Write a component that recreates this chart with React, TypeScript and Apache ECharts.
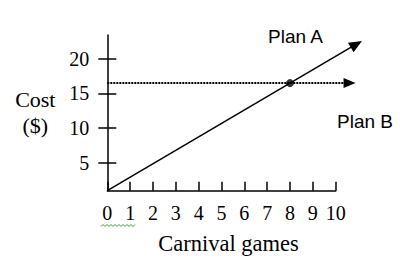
import React, { useEffect, useRef } from "react";
import * as echarts from "echarts";

// Data
const xMin = 0;
const xMax = 10;
const yMin = 0.95;
const yMax = 23.45;
const yTickValues = [5, 10, 15, 20];
// [x start, y start, x end (arrow tip), y end]
const planA: number[] = [0, 0.95, 11.15, 22.6];
const planB: number[] = [0, 16.5, 10.87, 16.5];
const intersection: [number, number][] = [[8, 16.5]];
const planALabel = "Plan A";
const planBLabel = "Plan B";
const xAxisName = "Carnival games";
const yAxisName = "Cost\n($)";

const SERIF = "'Liberation Serif', 'Times New Roman', serif";
const SANS = "'Liberation Sans', Arial, sans-serif";

function arrowRenderer(lineWidth: number, lineDash: number[] | null, headLen: number, headWidth: number) {
  return (params: any, api: any) => {
    const p0 = api.coord([api.value(0), api.value(1)]);
    const p1 = api.coord([api.value(2), api.value(3)]);
    const dx = p1[0] - p0[0];
    const dy = p1[1] - p0[1];
    const len = Math.sqrt(dx * dx + dy * dy) || 1;
    const ux = dx / len;
    const uy = dy / len;
    const nx = -uy;
    const ny = ux;
    const bx = p1[0] - ux * headLen;
    const by = p1[1] - uy * headLen;
    return {
      type: "group",
      children: [
        {
          type: "line",
          shape: { x1: p0[0], y1: p0[1], x2: bx + ux * 1, y2: by + uy * 1 },
          style: { stroke: "#000", lineWidth, lineDash: lineDash || undefined, fill: null },
        },
        {
          type: "polygon",
          shape: {
            points: [
              [p1[0], p1[1]],
              [bx + nx * headWidth / 2, by + ny * headWidth / 2],
              [bx - nx * headWidth / 2, by - ny * headWidth / 2],
            ],
          },
          style: { fill: "#000", stroke: null },
        },
      ],
    };
  };
}

export default function App() {
  const ref = useRef<HTMLDivElement>(null);
  useEffect(() => {
    document.body.style.margin = "0";
    if (!ref.current) return;
    const chart = echarts.init(ref.current, undefined, { renderer: "svg" });
    const axisLineStyle = { color: "#000", width: 1.5 };

    // spell-check squiggle decoration under "0 1"
    const squiggle: number[][] = [];
    for (let i = 0; i <= 17; i++) squiggle.push([101 + i * 2, i % 2 === 0 ? 226.5 : 224.5]);

    chart.setOption({
      animation: false,
      grid: { left: 107.3, right: 68.3, top: 35, bottom: 76.3, containLabel: false },
      xAxis: {
        type: "value",
        min: xMin,
        max: xMax,
        interval: 1,
        axisLine: { show: true, onZero: false, lineStyle: axisLineStyle },
        axisTick: { show: true, inside: true, length: 9, lineStyle: axisLineStyle },
        axisLabel: { margin: 12, fontFamily: SERIF, fontSize: 20, color: "#000" },
        splitLine: { show: false },
        name: xAxisName,
        nameLocation: "middle",
        nameGap: 41,
        nameTextStyle: { fontFamily: SERIF, fontSize: 22.5, color: "#000", padding: [0, 0, 0, 14] },
      },
      yAxis: [
        {
          type: "value",
          min: yMin,
          max: yMax,
          position: "left",
          axisLine: { show: true, onZero: false, lineStyle: axisLineStyle },
          axisTick: { show: true, inside: false, length: 9, customValues: yTickValues, lineStyle: axisLineStyle },
          axisLabel: { customValues: yTickValues, margin: 18, fontFamily: SERIF, fontSize: 20, color: "#000" },
          splitLine: { show: false },
          name: yAxisName,
          nameLocation: "middle",
          nameRotate: 0,
          nameGap: 72,
          nameTextStyle: { fontFamily: SERIF, fontSize: 22, lineHeight: 26, color: "#000", align: "center" },
        },
        {
          type: "value",
          min: yMin,
          max: yMax,
          position: "left",
          offset: 0,
          axisLine: { show: false },
          axisTick: { show: true, inside: true, length: 9, customValues: yTickValues, lineStyle: axisLineStyle },
          axisLabel: { show: false },
          splitLine: { show: false },
        },
      ],
      series: [
        {
          type: "custom",
          name: planALabel,
          data: [planA],
          encode: { x: [0, 2], y: [1, 3] },
          clip: false,
          silent: true,
          renderItem: arrowRenderer(1.5, null, 13, 11),
        },
        {
          type: "custom",
          name: planBLabel,
          data: [planB],
          encode: { x: [0, 2], y: [1, 3] },
          clip: false,
          silent: true,
          renderItem: arrowRenderer(2, [2, 1], 12, 10),
        },
        {
          type: "scatter",
          data: intersection,
          symbolSize: 8,
          itemStyle: { color: "#000" },
          clip: false,
          silent: true,
        },
      ],
      graphic: [
        {
          type: "text",
          left: 268,
          top: 27,
          style: { text: planALabel, fontFamily: SANS, fontSize: 19, fill: "#000" },
        },
        {
          type: "text",
          left: 337,
          top: 112,
          style: { text: planBLabel, fontFamily: SANS, fontSize: 19, fill: "#000" },
        },
        {
          type: "polyline",
          shape: { points: squiggle },
          style: { stroke: "#3c9a3c", lineWidth: 1, fill: "none" },
        },
      ],
    });

    return () => chart.dispose();
  }, []);
  return <div ref={ref} style={{ width: 404, height: 267 }} />;
}
